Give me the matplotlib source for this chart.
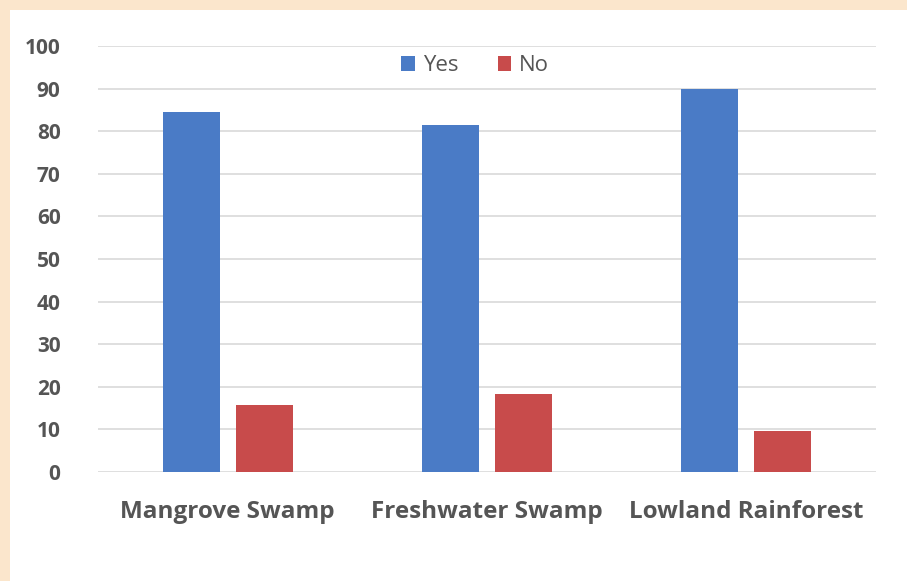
import matplotlib
matplotlib.use("Agg")
import matplotlib.pyplot as plt
import numpy as np
from matplotlib.patches import Rectangle

categories = ["Mangrove Swamp", "Freshwater Swamp", "Lowland Rainforest"]
yes_values = [84.5, 81.5, 90.0]
no_values = [15.8, 18.4, 9.7]
y_ticks = [0, 10, 20, 30, 40, 50, 60, 70, 80, 90, 100]

W, H = 907, 581
fig = plt.figure(figsize=(W / 100, H / 100), dpi=100)
fig.patch.set_facecolor("white")

# peach frame strips (top and left)
fig.patches.append(Rectangle((0, 1 - 10 / H), 1, 10 / H, transform=fig.transFigure,
                             facecolor="#fbe6cc", edgecolor="none", zorder=0))
fig.patches.append(Rectangle((0, 0), 10 / W, 1, transform=fig.transFigure,
                             facecolor="#fbe6cc", edgecolor="none", zorder=0))

left, right = 98 / W, 876 / W
bottom, top = 1 - 472 / H, 1 - 46 / H
ax = fig.add_axes([left, bottom, right - left, top - bottom])
ax.set_facecolor("white")

x = np.arange(len(categories))
bw = 0.22
off = 0.141
ax.bar(x - off, yes_values, bw, color="#4a7bc6", label="Yes", zorder=3)
ax.bar(x + off, no_values, bw, color="#c84b4b", label="No", zorder=3)

ax.set_xlim(-0.5, 2.5)
ax.set_ylim(0, 100)
ax.set_yticks(y_ticks)
ax.set_yticklabels([str(t) for t in y_ticks])
ax.set_xticks(x)
ax.set_xticklabels(categories)

font = "Open Sans"
for lab in ax.get_yticklabels():
    lab.set_fontfamily(font)
    lab.set_fontsize(15)
    lab.set_fontweight("bold")
    lab.set_color("#555555")
for lab in ax.get_xticklabels():
    lab.set_fontfamily(font)
    lab.set_fontsize(17.5)
    lab.set_fontweight("bold")
    lab.set_color("#555555")

ax.tick_params(axis="both", length=0)
ax.tick_params(axis="y", pad=27)
ax.tick_params(axis="x", pad=20)
ax.grid(axis="y", color="#d9d9d9", linewidth=1.2, zorder=0)
for s in ax.spines.values():
    s.set_visible(False)

leg = ax.legend(loc="upper center", bbox_to_anchor=(0.485, 1.025), ncol=2, frameon=False,
                handlelength=0.6, handleheight=0.6, handletextpad=0.35, columnspacing=1.8,
                prop={"family": font, "size": 16})
for t in leg.get_texts():
    t.set_color("#555555")

fig.savefig("out.png", dpi=100, facecolor=fig.get_facecolor())
